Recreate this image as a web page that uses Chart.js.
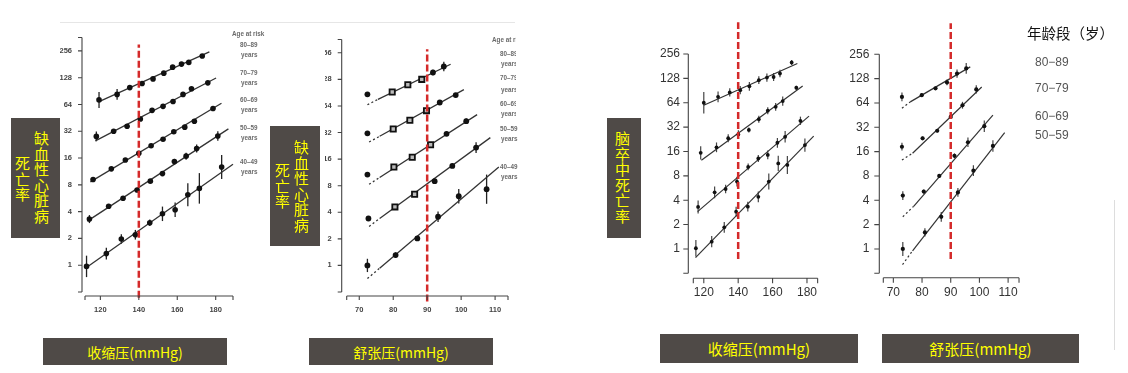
<!DOCTYPE html>
<html>
<head>
<meta charset="utf-8">
<script src="https://cdn.jsdelivr.net/npm/chart.js@4.4.0/dist/chart.umd.min.js"></script>
<style>
  body { margin: 0; width: 1128px; height: 373px; background: #fff; position: relative; overflow: hidden;
         font-family: "Liberation Sans", Arial, sans-serif; }
  canvas { position: absolute; }
  .soft { filter: blur(0.35px); }
  .box { position: absolute; background: #4f4a47; color: #ffff00; font-family: "Noto Sans CJK SC", sans-serif; }
  .vcol { position: absolute; writing-mode: vertical-rl; font-size: 15px; line-height: 1; letter-spacing: 0.5px; white-space: nowrap; }
  .xbox { display: flex; align-items: center; justify-content: center; font-size: 14px; }
  .tiny { position: absolute; font: bold 6.3px/8px "Liberation Sans", sans-serif; color: #6a6a6a; white-space: nowrap; }
  .lg { position: absolute; font: 12px/14px "Liberation Sans", Arial, sans-serif; color: #555; white-space: nowrap; }
</style>
</head>
<body>

<div style="position:absolute;left:60px;top:22px;width:455px;height:1px;background:#e6e6e6"></div>
<div style="position:absolute;left:1114px;top:200px;width:1px;height:150px;background:#dddddd"></div>

<canvas id="c1" class="soft" width="240" height="310" style="left:60px;top:20px"></canvas>
<canvas id="c2" class="soft" width="195" height="310" style="left:325px;top:20px"></canvas>
<canvas id="c3" width="189" height="295" style="left:641px;top:15px"></canvas>
<canvas id="c4" width="190" height="295" style="left:840px;top:15px"></canvas>

<!-- panel 1 legend -->
<div class="soft">
  <div class="tiny" style="left:232px;top:30px">Age at risk</div>
  <div class="tiny" style="left:240px;top:41px">80–89</div><div class="tiny" style="left:241px;top:51px">years</div>
  <div class="tiny" style="left:240px;top:69px">70–79</div><div class="tiny" style="left:241px;top:79px">years</div>
  <div class="tiny" style="left:240px;top:96px">60–69</div><div class="tiny" style="left:241px;top:106px">years</div>
  <div class="tiny" style="left:240px;top:124px">50–59</div><div class="tiny" style="left:241px;top:134px">years</div>
  <div class="tiny" style="left:240px;top:158px">40–49</div><div class="tiny" style="left:241px;top:168px">years</div>
</div>
<!-- panel 2 legend (cropped in the source) -->
<div class="soft" style="position:absolute;left:488px;top:20px;width:28px;height:100px;overflow:hidden">
  <div class="tiny" style="left:4px;top:16px">Age at risk</div>
  <div class="tiny" style="left:12px;top:30px">80–89</div><div class="tiny" style="left:13px;top:40px">years</div>
  <div class="tiny" style="left:12px;top:54px">70–79</div><div class="tiny" style="left:13px;top:66px">years</div>
  <div class="tiny" style="left:12px;top:80px">60–69</div><div class="tiny" style="left:13px;top:90px">years</div>
</div>
<div class="soft" style="position:absolute;left:488px;top:120px;width:34px;height:70px;overflow:hidden">
  <div class="tiny" style="left:12px;top:5px">50–59</div><div class="tiny" style="left:13px;top:15px">years</div>
  <div class="tiny" style="left:12px;top:43px">40–49</div><div class="tiny" style="left:13px;top:53px">years</div>
</div>
<!-- panel 4 legend -->
<div style="position:absolute;left:1027px;top:24px;font:14.5px/18px 'Noto Sans CJK SC',sans-serif;color:#111;white-space:nowrap">年龄段（岁）</div>
<div class="lg" style="left:1035px;top:55px">80−89</div>
<div class="lg" style="left:1035px;top:81px">70−79</div>
<div class="lg" style="left:1035px;top:109px">60−69</div>
<div class="lg" style="left:1035px;top:128px">50−59</div>

<!-- y label boxes -->
<div class="box" style="left:11px;top:118px;width:49px;height:120px">
  <div class="vcol" style="left:23px;top:13px">缺血性心脏病</div>
  <div class="vcol" style="left:4px;top:38px">死亡率</div>
</div>
<div class="box" style="left:270px;top:126px;width:50px;height:120px">
  <div class="vcol" style="left:24px;top:14px">缺血性心脏病</div>
  <div class="vcol" style="left:5px;top:37px">死亡率</div>
</div>
<div class="box" style="left:607px;top:118px;width:34px;height:120px">
  <div class="vcol" style="left:8px;top:13px">脑卒中死亡率</div>
</div>

<!-- x label boxes -->
<div class="box xbox" style="left:43px;top:338px;width:184px;height:27px">收缩压(mmHg)</div>
<div class="box xbox" style="left:309px;top:338px;width:184px;height:27px">舒张压(mmHg)</div>
<div class="box xbox" style="left:660px;top:334px;width:198px;height:29px;font-size:15px">收缩压(mmHg)</div>
<div class="box xbox" style="left:882px;top:334px;width:197px;height:29px;font-size:15px">舒张压(mmHg)</div>

<script>
// ---- shared ticks ----
const yTickVals = [1, 2, 4, 8, 16, 32, 64, 128, 256];
const sbpTicks = [120, 140, 160, 180];
const dbpTicks = [70, 80, 90, 100, 110];
const sbpRef = 140;
const dbpRef = 90;

// ---- panel 1: IHD mortality vs systolic BP (age 80-89 .. 40-49) ----
const ihdSbpX = [
  [119.3, 128.7, 135.3, 141.7, 147.4, 153, 157.6, 162.2, 166, 173],
  [117.9, 126.9, 133.9, 140.8, 146.9, 152.6, 157.8, 163, 167.4, 175.9],
  [116.2, 125.7, 133, 140, 146.4, 152.6, 158.2, 163.9, 168.9, 178.6],
  [114.3, 124.3, 131.8, 139.1, 146, 152.3, 158.5, 164.6, 170.1, 181.1],
  [112.8, 123.1, 130.9, 138.2, 145.7, 152.3, 158.9, 165.5, 171.5, 183.1]
];
const ihdSbpY = [
  [72, 83, 99, 110, 124, 144, 168, 182, 190, 224],
  [28, 32, 36.5, 44, 55, 61, 69, 83, 96, 112],
  [9.2, 12.1, 15.2, 18.1, 22, 26, 31.6, 35.6, 41.4, 57.7],
  [3.3, 4.6, 5.66, 7, 8.8, 10.7, 14.6, 16.8, 20.5, 28.3],
  [0.97, 1.35, 1.97, 2.2, 3.0, 3.78, 4.2, 6.2, 7.3, 12.7]
];
const ihdSbpErr = [   // half-length, log2 units
  [0.3, 0.2, 0.08, 0.05, 0.05, 0.05, 0.05, 0.05, 0.05, 0.05],
  [0.18, 0.06, 0.05, 0.05, 0.05, 0.05, 0.05, 0.05, 0.05, 0.05],
  [0.06, 0.05, 0.05, 0.05, 0.05, 0.05, 0.05, 0.05, 0.05, 0.05],
  [0.15, 0.05, 0.05, 0.05, 0.06, 0.06, 0.1, 0.13, 0.15, 0.18],
  [0.4, 0.22, 0.18, 0.18, 0.12, 0.27, 0.27, 0.43, 0.57, 0.45]
];
const ihdSbpFitX = [[119.3, 176.7], [117.4, 180.2], [114.8, 183], [113.2, 186.6], [112, 189]];
const ihdSbpFitY = [[69, 249], [25, 127], [8.65, 66], [3.13, 34], [0.92, 13.6]];

// ---- panel 2: IHD mortality vs diastolic BP ----
const ihdDbpX = [
  [72.4, 79.7, 84.3, 88.4, 91.7, 94.9],
  [72.4, 80, 84.9, 89.8, 93.7, 98.4],
  [72.4, 80.2, 85.6, 91, 95.7, 101.5],
  [72.7, 80.5, 86.3, 92.2, 97.4, 104.4],
  [72.4, 80.7, 87.1, 93.2, 99.3, 107.5]
];
const ihdDbpY = [
  [86.6, 92, 111, 128, 153, 179],
  [31.3, 35, 44, 56.6, 70, 85],
  [10.7, 13, 16.8, 23.3, 30.9, 43],
  [3.4, 4.6, 6.4, 9.0, 13.4, 21.6],
  [1.0, 1.31, 2.02, 3.56, 6.07, 7.3]
];
const ihdDbpErr = [
  [0.06, 0.05, 0.06, 0.05, 0.1, 0.18],
  [0.05, 0.06, 0.08, 0.08, 0.05, 0.05],
  [0.05, 0.06, 0.08, 0.06, 0.05, 0.1],
  [0.06, 0.05, 0.05, 0.05, 0.08, 0.2],
  [0.25, 0.1, 0.06, 0.2, 0.27, 0.55]
];
const ihdDbpFitX = [[72.4, 75.5, 96.9], [72.9, 76, 100.8], [72.9, 76, 104.7], [72.9, 76, 108.6], [72.4, 76, 111.1]];
const ihdDbpFitY = [[66, 76, 190], [25, 29, 98], [8.3, 9.9, 51], [2.76, 3.4, 28], [0.71, 0.93, 13]];

// ---- panel 3: stroke mortality vs systolic BP (80-89 .. 50-59) ----
const strokeSbpX = [
  [120, 128.3, 135.1, 141.2, 146.5, 152, 156.7, 160.6, 164.3, 171.1],
  [118.2, 127.4, 134.2, 140.1, 146.2, 152, 157.2, 161.8, 165.9, 173.8],
  [116.7, 126.3, 132.7, 139.3, 145.8, 151.7, 157.2, 162.8, 167.3, 176.2],
  [115.4, 124.6, 131.9, 138.8, 145.6, 151.7, 157.8, 163.3, 168.6, 178.8]
];
const strokeSbpY = [
  [64, 75.7, 85.7, 91.5, 102, 121.5, 131, 133, 147, 201],
  [15.4, 18, 23.3, 26, 29.5, 40, 51, 57, 67, 98],
  [3.3, 5.0, 5.5, 6.8, 10.3, 13.1, 14.5, 20.5, 24.3, 38.3],
  [1.02, 1.23, 1.85, 2.89, 3.33, 4.4, 6.8, 11.4, 10.9, 19.2]
];
const strokeSbpErr = [
  [0.44, 0.22, 0.17, 0.17, 0.18, 0.16, 0.17, 0.16, 0.15, 0.1],
  [0.27, 0.2, 0.16, 0.17, 0.1, 0.14, 0.14, 0.16, 0.19, 0.08],
  [0.27, 0.24, 0.17, 0.2, 0.14, 0.14, 0.18, 0.2, 0.24, 0.17],
  [0.34, 0.23, 0.22, 0.2, 0.2, 0.22, 0.33, 0.31, 0.37, 0.27]
];
const strokeSbpFitX = [[120, 174.4], [118.6, 177.5], [116.4, 181.2], [115.2, 183.9]];
const strokeSbpFitY = [[59.7, 195], [12.5, 103], [2.89, 43.7], [0.78, 24.8]];

// ---- panel 4: stroke mortality vs diastolic BP ----
const strokeDbpX = [
  [73, 79.9, 84.7, 88.7, 92.2, 95.4],
  [73, 80.2, 85.3, 90, 94.1, 98.9],
  [73.3, 80.6, 86, 91.3, 96, 101.7],
  [73.3, 81, 86.7, 92.5, 97.9, 104.7]
];
const strokeDbpY = [
  [76, 80, 97, 115, 148, 171],
  [18.4, 23.4, 29, 43, 60, 94],
  [4.58, 5.13, 8.0, 14.2, 20.9, 33],
  [1.0, 1.6, 2.5, 5.0, 9.3, 18.8]
];
const strokeDbpErr = [
  [0.18, 0.08, 0.07, 0.12, 0.17, 0.22],
  [0.16, 0.07, 0.07, 0.08, 0.14, 0.17],
  [0.18, 0.08, 0.08, 0.1, 0.2, 0.24],
  [0.29, 0.17, 0.2, 0.18, 0.22, 0.24]
];
const strokeDbpFitX = [[73, 75.9, 96.8], [73, 76.7, 100.8], [73.3, 77, 104.7], [73.2, 76.7, 108.8]];
const strokeDbpFitY = [[55, 66, 179], [12.6, 15.3, 101], [2.5, 3.35, 45.4], [0.64, 0.95, 27.5]];

// R-style detached axes + error bars
const rAxes = {
  id: 'rAxes',
  beforeDatasetsDraw(chart, args, o) {
    const ctx = chart.ctx, ys = chart.scales.y;
    chart.data.datasets.forEach((ds, di) => {
      if (!ds.errs) return;
      const meta = chart.getDatasetMeta(di);
      ctx.save();
      ctx.strokeStyle = o.errColor;
      ctx.lineWidth = o.errWidth;
      meta.data.forEach((pt, i) => {
        const v = ds.data[i].y, f = Math.pow(2, ds.errs[i]);
        ctx.beginPath();
        ctx.moveTo(pt.x, ys.getPixelForValue(v * f));
        ctx.lineTo(pt.x, ys.getPixelForValue(v / f));
        ctx.stroke();
      });
      ctx.restore();
    });
  },
  afterDraw(chart, args, o) {
    const { ctx, chartArea: a, scales: { x, y } } = chart;
    ctx.save();
    ctx.strokeStyle = o.color;
    ctx.lineWidth = o.width;
    ctx.beginPath();
    const ax = a.left - o.gapY;
    ctx.moveTo(ax, a.top); ctx.lineTo(ax, a.bottom);
    y.ticks.map(t => t.value).concat([y.min, y.max]).forEach(v => {
      const py = y.getPixelForValue(v);
      ctx.moveTo(ax, py); ctx.lineTo(ax - o.tick, py);
    });
    const by = a.bottom + o.gapX;
    ctx.moveTo(a.left, by); ctx.lineTo(a.right, by);
    x.ticks.map(t => t.value).concat([x.min, x.max]).forEach(v => {
      const px = x.getPixelForValue(v);
      ctx.moveTo(px, by); ctx.lineTo(px, by + o.tick);
    });
    ctx.stroke();
    ctx.restore();
  }
};

function makePanel(id, p) {
  const datasets = [];
  p.x.forEach((xs, s) => {
    const fx = p.fitX[s], fy = p.fitY[s];
    datasets.push({
      type: 'line', showLine: true, order: 2, clip: false,
      data: fx.map((v, i) => ({ x: v, y: fy[i] })),
      borderColor: '#333', borderWidth: p.lineW, pointRadius: 0,
      segment: { borderDash: ctx => (fx.length > 2 && ctx.p0DataIndex === 0) ? [2, 2.5] : undefined }
    });
    datasets.push({
      type: 'scatter', order: 1, clip: false,
      data: xs.map((v, i) => ({ x: v, y: p.y[s][i] })),
      errs: p.err[s],
      pointStyle: ctx => p.shape(s, ctx.dataIndex),
      pointRadius: ctx => p.shape(s, ctx.dataIndex) === 'rect' ? p.r + 0.8 : p.r,
      pointBackgroundColor: ctx => p.shape(s, ctx.dataIndex) === 'rect' ? '#bbb' : '#111',
      pointBorderColor: '#111',
      pointBorderWidth: ctx => p.shape(s, ctx.dataIndex) === 'rect' ? 1.8 : 0
    });
  });
  datasets.push({
    type: 'line', showLine: true, order: -1, clip: false,
    data: [{ x: p.ref, y: p.refSpan[0] }, { x: p.ref, y: p.refSpan[1] }],
    borderColor: '#d42a2a', borderWidth: 2.5, borderDash: [7, 3], pointRadius: 0
  });

  new Chart(document.getElementById(id), {
    type: 'scatter',
    data: { datasets },
    options: {
      responsive: false, animation: false, devicePixelRatio: 1,
      layout: { padding: { top: p.padTop, right: p.padRight, left: 0, bottom: 0 } },
      plugins: {
        legend: { display: false }, tooltip: { enabled: false },
        rAxes: { color: '#444', width: 1.1, tick: p.tick, gapX: p.gapX, gapY: p.gapY,
                 errColor: p.errColor, errWidth: p.errW }
      },
      scales: {
        x: {
          type: 'linear', min: p.xRange[0], max: p.xRange[1], bounds: 'data',
          grid: { display: false, drawTicks: false }, border: { display: false },
          ticks: { autoSkip: false, maxRotation: 0, minRotation: 0, padding: p.xPad,
                   font: p.font, color: p.fontColor, callback: v => String(v) },
          afterBuildTicks: sc => { sc.ticks = p.xTicks.map(v => ({ value: v })); },
          afterFit: sc => { sc.height = p.xH; }
        },
        y: {
          type: 'logarithmic', min: p.yRange[0], max: p.yRange[1], bounds: 'data',
          grid: { display: false, drawTicks: false }, border: { display: false },
          ticks: { autoSkip: false, padding: p.yPad, font: p.font, color: p.fontColor,
                   callback: v => String(v) },
          afterBuildTicks: sc => { sc.ticks = yTickVals.map(v => ({ value: v })); },
          afterFit: sc => { sc.width = p.yW; }
        }
      }
    },
    plugins: [rAxes]
  });
}

const smallFont = { family: 'Liberation Sans', size: 7.5, weight: 'bold' };
const bigFont = { family: 'Liberation Sans', size: 12 };

makePanel('c1', {
  x: ihdSbpX, y: ihdSbpY, err: ihdSbpErr, fitX: ihdSbpFitX, fitY: ihdSbpFitY,
  shape: () => 'circle', r: 2.8, lineW: 1.3, errColor: '#222', errW: 1.3,
  ref: sbpRef, refSpan: [0.43, 302],
  xRange: [112, 189], yRange: [0.5, 362], xTicks: sbpTicks,
  padTop: 13, padRight: 67, yW: 25, xH: 38, yPad: 13, xPad: 13.5,
  gapX: 4, gapY: 3, tick: 4, font: smallFont, fontColor: '#444'
});
makePanel('c2', {
  x: ihdDbpX, y: ihdDbpY, err: ihdDbpErr, fitX: ihdDbpFitX, fitY: ihdDbpFitY,
  shape: (s, i) => ((s < 3 && i >= 1 && i <= 3) || (s === 3 && i >= 1 && i <= 2)) ? 'rect' : 'circle',
  r: 2.9, lineW: 1.3, errColor: '#222', errW: 1.3,
  ref: dbpRef, refSpan: [0.39, 280],
  xRange: [66.3, 113.8], yRange: [0.5, 362], xTicks: dbpTicks,
  padTop: 13, padRight: 12, yW: 21.7, xH: 38, yPad: 15, xPad: 13.5,
  gapX: 4, gapY: 5, tick: 4, font: smallFont, fontColor: '#444'
});
makePanel('c3', {
  x: strokeSbpX, y: strokeSbpY, err: strokeSbpErr, fitX: strokeSbpFitX, fitY: strokeSbpFitY,
  shape: () => 'circle', r: 1.9, lineW: 1.2, errColor: '#444', errW: 1.2,
  ref: sbpRef, refSpan: [0.75, 630],
  xRange: [113.9, 186.2], yRange: [0.5, 256], xTicks: sbpTicks,
  padTop: 39, padRight: 6, yW: 52.3, xH: 36.7, yPad: 13.3, xPad: 12.5,
  gapX: 5, gapY: 5, tick: 5, font: bigFont, fontColor: '#333'
});
makePanel('c4', {
  x: strokeDbpX, y: strokeDbpY, err: strokeDbpErr, fitX: strokeDbpFitX, fitY: strokeDbpFitY,
  shape: () => 'circle', r: 2.1, lineW: 1.2, errColor: '#444', errW: 1.2,
  ref: dbpRef, refSpan: [0.75, 618],
  xRange: [66.5, 113.8], yRange: [0.5, 256], xTicks: dbpTicks,
  padTop: 39.3, padRight: 1.7, yW: 43.3, xH: 36.7, yPad: 14, xPad: 12,
  gapX: 4.4, gapY: 4, tick: 5, font: bigFont, fontColor: '#333'
});
</script>
</body>
</html>
